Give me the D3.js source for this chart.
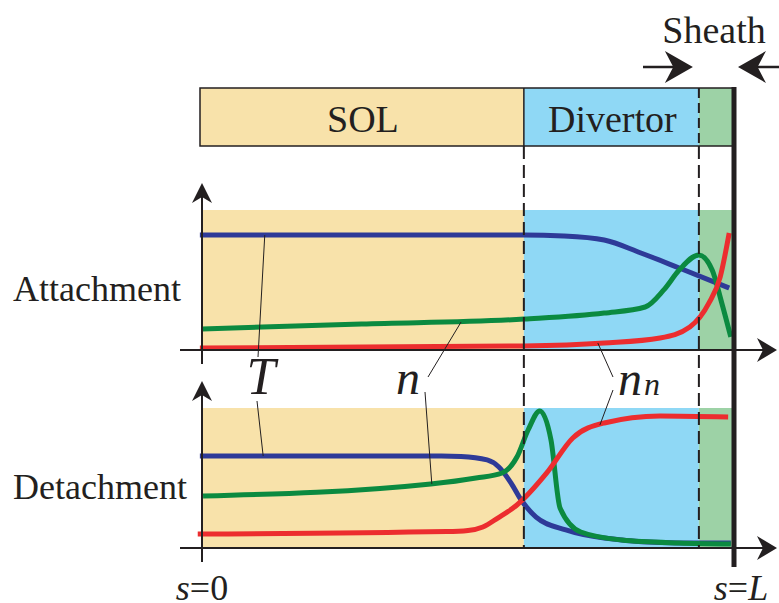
<!DOCTYPE html>
<html lang="en">
<head>
<meta charset="UTF-8">
<script src="https://d3js.org/d3.v7.min.js"></script>
<title>Attachment / Detachment</title>
<style>
    body { margin: 0; background: #fff; }
    text { font-family: "Liberation Serif", "Times New Roman", serif; fill: #231f20; }
</style>
</head>
<body>
<div id="app"></div>
<script>
    const svg_width = 779;
    const svg_height = 603;

    // regions along s (0 = upstream, 1 = target plate)
    const regions = ['SOL', 'Divertor', 'Sheath'];
    const region_edges = [0, 0.605, 0.934, 1];
    const region_colors = ['#f8e2aa', '#8fd8f5', '#9dd2a6'];

    // attachment profiles: [s, value]
    const att_T = [[-0.004, 0.821], [0.3, 0.821], [0.605, 0.821], [0.68, 0.814], [0.756, 0.786], [0.825, 0.693], [0.897, 0.586], [0.991, 0.443]];
    const att_n = [[0, 0.15], [0.3, 0.186], [0.605, 0.221], [0.756, 0.264], [0.833, 0.307], [0.868, 0.429], [0.897, 0.571], [0.934, 0.679], [0.959, 0.571], [0.977, 0.336], [0.994, 0.093]];
    const att_nn = [[-0.004, 0.014], [0.605, 0.029], [0.756, 0.05], [0.861, 0.086], [0.917, 0.164], [0.953, 0.336], [0.974, 0.521], [0.991, 0.836]];

    // detachment profiles
    const det_T = [[-0.004, 0.657], [0.45, 0.657], [0.487, 0.654], [0.536, 0.629], [0.558, 0.579], [0.581, 0.464], [0.6, 0.343], [0.628, 0.221], [0.684, 0.129], [0.756, 0.071], [0.897, 0.036], [0.994, 0.036]];
    const det_n = [[0.002, 0.371], [0.43, 0.457], [0.515, 0.5], [0.564, 0.536], [0.592, 0.65], [0.613, 0.843], [0.635, 0.979], [0.656, 0.771], [0.673, 0.286], [0.712, 0.114], [0.789, 0.057], [0.897, 0.036], [0.994, 0.029]];
    const det_nn = [[-0.008, 0.1], [0.46, 0.117], [0.5, 0.125], [0.528, 0.15], [0.556, 0.214], [0.592, 0.307], [0.648, 0.536], [0.697, 0.786], [0.756, 0.893], [0.861, 0.943], [0.989, 0.936]];

    const line_colors = { T: '#2e3a98', n: '#0b8a40', nn: '#ec2d2f' };

    const svg = d3.select('#app')
        .append('svg')
        .attr('width', svg_width)
        .attr('height', svg_height);

    const x_scale = d3.scaleLinear().domain([0, 1]).range([202, 734]);

    const panels = [
        { name: 'Attachment', top: 210, axis: 350, T: att_T, n: att_n, nn: att_nn, label_y: 301 },
        { name: 'Detachment', top: 408, axis: 548, T: det_T, n: det_n, nn: det_nn, label_y: 499 }
    ];
    panels.forEach(function (p) {
        p.y = d3.scaleLinear().domain([0, 1]).range([p.axis, p.top]);
    });

    // arrowhead with swept back
    function arrow_head(x, y, dir, len, half) {
        if (dir === 'right') {
            return 'M' + x + ',' + y + ' L' + (x - len) + ',' + (y - half) + ' L' + (x - len * 0.7) + ',' + y + ' L' + (x - len) + ',' + (y + half) + 'Z';
        } else if (dir === 'left') {
            return 'M' + x + ',' + y + ' L' + (x + len) + ',' + (y - half) + ' L' + (x + len * 0.7) + ',' + y + ' L' + (x + len) + ',' + (y + half) + 'Z';
        }
        return 'M' + x + ',' + y + ' L' + (x - half) + ',' + (y + len) + ' L' + x + ',' + (y + len * 0.7) + ' L' + (x + half) + ',' + (y + len) + 'Z';
    }

    // ---- top region bar
    const bar_top = 88, bar_bottom = 146;
    svg.selectAll('rect.bar')
        .data(regions)
        .enter()
        .append('rect')
        .attr('class', 'bar')
        .attr('x', function (d, i) { return x_scale(region_edges[i]) - (i === 0 ? 2 : 0); })
        .attr('y', bar_top)
        .attr('width', function (d, i) { return x_scale(region_edges[i + 1]) - x_scale(region_edges[i]) + (i === 0 ? 2 : 0); })
        .attr('height', bar_bottom - bar_top)
        .attr('fill', function (d, i) { return region_colors[i]; });

    svg.append('rect')
        .attr('x', x_scale(0) - 2)
        .attr('y', bar_top)
        .attr('width', x_scale(1) - x_scale(0) + 2)
        .attr('height', bar_bottom - bar_top)
        .attr('fill', 'none')
        .attr('stroke', '#231f20')
        .attr('stroke-width', 1.5);

    svg.append('line')
        .attr('x1', x_scale(region_edges[1])).attr('x2', x_scale(region_edges[1]))
        .attr('y1', bar_top).attr('y2', bar_bottom)
        .attr('stroke', '#231f20').attr('stroke-width', 1.5);

    svg.append('text').attr('x', (x_scale(region_edges[0]) + x_scale(region_edges[1])) / 2).attr('y', 132)
        .attr('text-anchor', 'middle').style('font-size', '38px').text(regions[0]);
    svg.append('text').attr('x', (x_scale(region_edges[1]) + x_scale(region_edges[2])) / 2 + 1).attr('y', 132)
        .attr('text-anchor', 'middle').style('font-size', '38px').text(regions[1]);
    svg.append('text').attr('x', 714).attr('y', 43)
        .attr('text-anchor', 'middle').style('font-size', '38px').text(regions[2]);

    // sheath arrows
    svg.append('line').attr('x1', 643).attr('x2', 680).attr('y1', 67).attr('y2', 67)
        .attr('stroke', '#231f20').attr('stroke-width', 2.5);
    svg.append('path').attr('d', arrow_head(x_scale(region_edges[2]) - 6, 67, 'right', 28, 16)).attr('fill', '#231f20');
    svg.append('line').attr('x1', 755).attr('x2', 779).attr('y1', 67).attr('y2', 67)
        .attr('stroke', '#231f20').attr('stroke-width', 2.5);
    svg.append('path').attr('d', arrow_head(x_scale(1) + 4, 67, 'left', 28, 16)).attr('fill', '#231f20');

    // ---- panels
    const line_gen = d3.line().curve(d3.curveMonotoneX);

    panels.forEach(function (p) {
        const g = svg.append('g');
        g.selectAll('rect')
            .data(regions)
            .enter()
            .append('rect')
            .attr('x', function (d, i) { return x_scale(region_edges[i]); })
            .attr('y', p.top)
            .attr('width', function (d, i) { return x_scale(region_edges[i + 1]) - x_scale(region_edges[i]); })
            .attr('height', p.axis - p.top)
            .attr('fill', function (d, i) { return region_colors[i]; });

        ['T', 'n', 'nn'].forEach(function (key) {
            g.append('path')
                .attr('d', line_gen.x(function (d) { return x_scale(d[0]); }).y(function (d) { return p.y(d[1]); })(p[key]))
                .attr('fill', 'none')
                .attr('stroke', line_colors[key])
                .attr('stroke-width', 5)
                .attr('stroke-linejoin', 'round');
        });

        // axes
        g.append('line').attr('x1', 180).attr('x2', 765).attr('y1', p.axis).attr('y2', p.axis)
            .attr('stroke', '#231f20').attr('stroke-width', 2);
        g.append('path').attr('d', arrow_head(777, p.axis, 'right', 20, 12)).attr('fill', '#231f20');
        g.append('line').attr('x1', x_scale(0)).attr('x2', x_scale(0)).attr('y1', p.top - 20).attr('y2', p.axis + 14)
            .attr('stroke', '#231f20').attr('stroke-width', 2);
        g.append('path').attr('d', arrow_head(x_scale(0), p.top - 27, 'up', 20, 10)).attr('fill', '#231f20');

        g.append('text').attr('x', 13).attr('y', p.label_y)
            .style('font-size', '36px').text(p.name);
    });

    // dashed boundaries
    [region_edges[1], region_edges[2]].forEach(function (e) {
        svg.append('line')
            .attr('x1', x_scale(e)).attr('x2', x_scale(e))
            .attr('y1', bar_bottom).attr('y2', 548)
            .attr('stroke', '#231f20').attr('stroke-width', 2)
            .attr('stroke-dasharray', '13,6');
    });
    svg.append('line')
        .attr('x1', x_scale(region_edges[2])).attr('x2', x_scale(region_edges[2]))
        .attr('y1', bar_top).attr('y2', bar_bottom)
        .attr('stroke', '#231f20').attr('stroke-width', 2)
        .attr('stroke-dasharray', '10,5');

    // wall
    svg.append('line')
        .attr('x1', x_scale(1)).attr('x2', x_scale(1))
        .attr('y1', bar_top - 1).attr('y2', 567)
        .attr('stroke', '#231f20').attr('stroke-width', 5);

    // curve labels and leaders: [label x, label y, s target, value target, panel]
    const up = panels[0], dn = panels[1];
    const leaders = [
        [258, 357, 0.118, 0.821, up], [257, 401, 0.115, 0.657, dn],
        [428, 377, 0.487, 0.2, up], [425, 392, 0.432, 0.457, dn],
        [613, 377, 0.744, 0.05, up], [613, 390, 0.748, 0.879, dn]
    ];
    svg.selectAll('line.leader')
        .data(leaders)
        .enter()
        .append('line')
        .attr('class', 'leader')
        .attr('x1', function (d) { return d[0]; })
        .attr('y1', function (d) { return d[1]; })
        .attr('x2', function (d) { return x_scale(d[2]); })
        .attr('y2', function (d) { return d[4].y(d[3]); })
        .attr('stroke', '#231f20')
        .attr('stroke-width', 1);

    svg.append('text').attr('x', 261).attr('y', 394).attr('text-anchor', 'middle')
        .style('font-size', '52px').style('font-style', 'italic').text('T');
    svg.append('text').attr('x', 408).attr('y', 394).attr('text-anchor', 'middle')
        .style('font-size', '48px').style('font-style', 'italic').text('n');
    svg.append('text').attr('x', 630).attr('y', 395).attr('text-anchor', 'middle')
        .style('font-size', '48px').style('font-style', 'italic').text('n');
    svg.append('text').attr('x', 652).attr('y', 395).attr('text-anchor', 'middle')
        .style('font-size', '32px').style('font-style', 'italic').text('n');

    // s labels
    const s0 = svg.append('text').attr('x', x_scale(0)).attr('y', 600).attr('text-anchor', 'middle').style('font-size', '36px');
    s0.append('tspan').style('font-style', 'italic').text('s');
    s0.append('tspan').text('=0');
    const sL = svg.append('text').attr('x', x_scale(1) + 7).attr('y', 600).attr('text-anchor', 'middle').style('font-size', '36px');
    sL.append('tspan').style('font-style', 'italic').text('s');
    sL.append('tspan').text('=');
    sL.append('tspan').style('font-style', 'italic').text('L');
</script>
</body>
</html>
